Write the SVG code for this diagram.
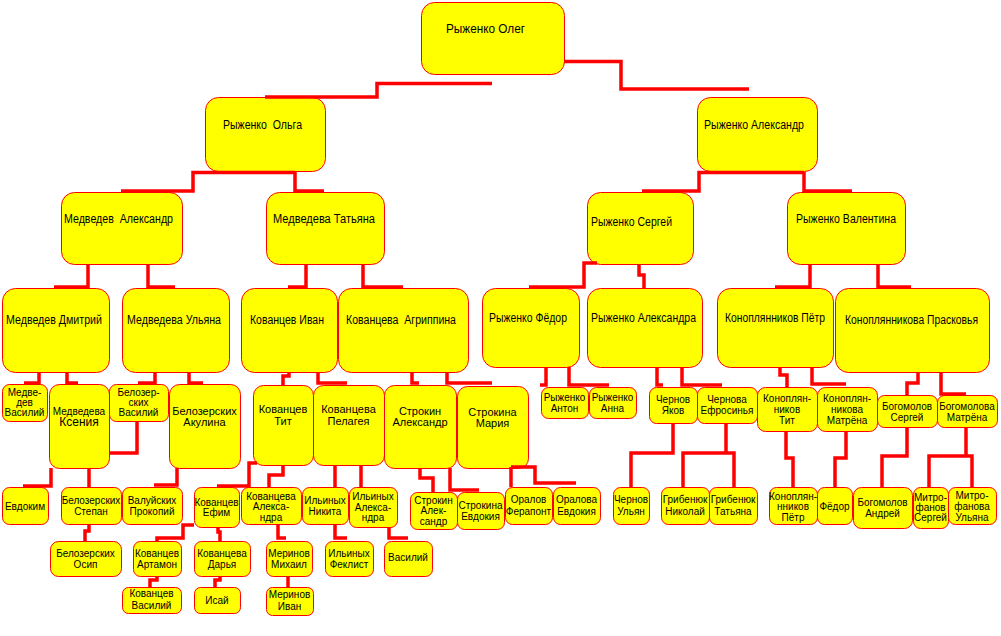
<svg xmlns="http://www.w3.org/2000/svg" width="1001" height="636" viewBox="0 0 1001 636">
<style>
.n rect{fill:#ffff00;stroke:#ff0000;stroke-width:1}
.n text{font-family:"Liberation Sans",Arial,sans-serif;fill:#000;text-anchor:middle}
.b text{font-size:12px}
.m text{font-size:11px}
.s text{font-size:10px}
#connectors path{fill:none;stroke:#ff0000;stroke-width:3.5}
</style>
<rect width="1001" height="636" fill="#ffffff"/>
<g id="nodes">
<g id="oleg" class="n b"><rect x="421.5" y="2.5" width="143" height="72" rx="13"/><text x="485.5" y="33" textLength="79" lengthAdjust="spacingAndGlyphs">Рыженко Олег</text></g>
<g id="olga" class="n b"><rect x="205.5" y="97.5" width="120" height="74" rx="13"/><text x="262.5" y="129" xml:space="preserve" textLength="79" lengthAdjust="spacingAndGlyphs">Рыженко  Ольга</text></g>
<g id="alexandr-r" class="n b"><rect x="697.5" y="97.5" width="120" height="74" rx="13"/><text x="754" y="129" textLength="100" lengthAdjust="spacingAndGlyphs">Рыженко Александр</text></g>
<g id="medvedev-a" class="n b"><rect x="61.5" y="192.5" width="121" height="72" rx="13"/><text x="118.5" y="223" xml:space="preserve" textLength="109" lengthAdjust="spacingAndGlyphs">Медведев  Александр</text></g>
<g id="medvedeva-t" class="n b"><rect x="266.5" y="192.5" width="118" height="72" rx="13"/><text x="324" y="223" textLength="102" lengthAdjust="spacingAndGlyphs">Медведева Татьяна</text></g>
<g id="sergey" class="n b"><rect x="587.5" y="192.5" width="106" height="72" rx="13"/><text x="631.5" y="226" textLength="81" lengthAdjust="spacingAndGlyphs">Рыженко Сергей</text></g>
<g id="valentina" class="n b"><rect x="787.5" y="192.5" width="118" height="72" rx="13"/><text x="846" y="223" textLength="100" lengthAdjust="spacingAndGlyphs">Рыженко Валентина</text></g>
<g id="dmitry" class="n b"><rect x="2.5" y="288.5" width="107" height="84" rx="13"/><text x="54" y="324" textLength="96" lengthAdjust="spacingAndGlyphs">Медведев Дмитрий</text></g>
<g id="ulyana" class="n b"><rect x="122.5" y="288.5" width="107" height="84" rx="13"/><text x="174" y="324" textLength="94" lengthAdjust="spacingAndGlyphs">Медведева Ульяна</text></g>
<g id="ivan" class="n b"><rect x="241.5" y="288.5" width="96" height="84" rx="13"/><text x="287" y="324" textLength="74" lengthAdjust="spacingAndGlyphs">Кованцев Иван</text></g>
<g id="agrippina" class="n b"><rect x="338.5" y="288.5" width="130" height="84" rx="13"/><text x="401" y="324" xml:space="preserve" textLength="110" lengthAdjust="spacingAndGlyphs">Кованцева  Агриппина</text></g>
<g id="fedor" class="n b"><rect x="482.5" y="288.5" width="97" height="79" rx="13"/><text x="528" y="322" textLength="78" lengthAdjust="spacingAndGlyphs">Рыженко Фёдор</text></g>
<g id="alexandra-r" class="n b"><rect x="587.5" y="288.5" width="115" height="79" rx="13"/><text x="643.5" y="322" textLength="105" lengthAdjust="spacingAndGlyphs">Рыженко Александра</text></g>
<g id="petr" class="n b"><rect x="717.5" y="288.5" width="116" height="79" rx="13"/><text x="775" y="322" textLength="100" lengthAdjust="spacingAndGlyphs">Коноплянников Пётр</text></g>
<g id="praskovya" class="n b"><rect x="835.5" y="288.5" width="154" height="84" rx="13"/><text x="911.5" y="324" textLength="133" lengthAdjust="spacingAndGlyphs">Коноплянникова Прасковья</text></g>

<g id="medvedev-v" class="n s"><rect x="2.5" y="384.5" width="45" height="37" rx="7"/><text x="24.5" y="395.5">Медве-</text><text x="24.5" y="405.5">дев</text><text x="24.5" y="415.5">Василий</text></g>
<g id="kseniya" class="n"><rect x="49.5" y="384.5" width="60" height="84" rx="10"/><text x="79" y="414.5" font-size="10">Медведева</text><text x="79" y="426" font-size="12">Ксения</text></g>
<g id="belozersky-v" class="n s"><rect x="109.5" y="384.5" width="59" height="37" rx="7"/><text x="138.5" y="395.5">Белозер-</text><text x="138.5" y="405.5">ских</text><text x="138.5" y="415.5">Василий</text></g>
<g id="akulina" class="n m"><rect x="169.5" y="384.5" width="71" height="84" rx="10"/><text x="204.5" y="415">Белозерских</text><text x="204.5" y="426">Акулина</text></g>
<g id="kovantsev-tit" class="n m"><rect x="253.5" y="385.5" width="60" height="80" rx="10"/><text x="283" y="413">Кованцев</text><text x="283" y="425">Тит</text></g>
<g id="pelageya" class="n m"><rect x="313.5" y="385.5" width="71" height="80" rx="10"/><text x="348.5" y="413">Кованцева</text><text x="348.5" y="425">Пелагея</text></g>
<g id="strokin-a" class="n m"><rect x="384.5" y="385.5" width="72" height="83" rx="10"/><text x="420" y="415">Строкин</text><text x="420" y="426">Александр</text></g>
<g id="strokina-m" class="n m"><rect x="457.5" y="386.5" width="71" height="82" rx="10"/><text x="492.5" y="416">Строкина</text><text x="492.5" y="427">Мария</text></g>
<g id="ryzhenko-anton" class="n s"><rect x="541.5" y="387.5" width="47" height="31" rx="7"/><text x="564.5" y="400.5">Рыженко</text><text x="564.5" y="411.5">Антон</text></g>
<g id="ryzhenko-anna" class="n s"><rect x="589.5" y="387.5" width="47" height="31" rx="7"/><text x="612.5" y="400.5">Рыженко</text><text x="612.5" y="411.5">Анна</text></g>
<g id="chernov-yakov" class="n s"><rect x="649.5" y="387.5" width="48" height="36" rx="7"/><text x="673" y="402.5">Чернов</text><text x="673" y="413.5">Яков</text></g>
<g id="chernova-efrosinya" class="n s"><rect x="697.5" y="387.5" width="60" height="36" rx="7"/><text x="727" y="402.5">Чернова</text><text x="727" y="413.5">Ефросинья</text></g>
<g id="konoplyannikov-tit" class="n s"><rect x="757.5" y="387.5" width="60" height="44" rx="8"/><text x="787" y="401.5">Коноплян-</text><text x="787" y="412.5">ников</text><text x="787" y="423.5">Тит</text></g>
<g id="konoplyannikova-matryona" class="n s"><rect x="817.5" y="387.5" width="60" height="44" rx="8"/><text x="847" y="401.5">Коноплян-</text><text x="847" y="412.5">никова</text><text x="847" y="423.5">Матрёна</text></g>
<g id="bogomolov-s" class="n s"><rect x="877.5" y="395.5" width="60" height="32" rx="7"/><text x="907" y="409.5">Богомолов</text><text x="907" y="420.5">Сергей</text></g>
<g id="bogomolova-m" class="n s"><rect x="937.5" y="395.5" width="60" height="32" rx="7"/><text x="967" y="409.5">Богомолова</text><text x="967" y="420.5">Матрёна</text></g>

<g id="evdokim" class="n s"><rect x="2.5" y="487.5" width="46" height="37" rx="7"/><text x="25" y="509.5">Евдоким</text></g>
<g id="belozersky-stepan" class="n s"><rect x="61.5" y="487.5" width="60" height="37" rx="7"/><text x="91" y="503.5">Белозерских</text><text x="91" y="514.5">Степан</text></g>
<g id="valuyskikh" class="n s"><rect x="122.5" y="487.5" width="60" height="37" rx="7"/><text x="152" y="503.5">Валуйских</text><text x="152" y="514.5">Прокопий</text></g>
<g id="kovantsev-efim" class="n s"><rect x="194.5" y="487.5" width="45" height="40" rx="7"/><text x="216.5" y="505.5">Кованцев</text><text x="216.5" y="515.5">Ефим</text></g>
<g id="kovantseva-alexandra" class="n s"><rect x="241.5" y="487.5" width="60" height="37" rx="7"/><text x="271" y="499.5">Кованцева</text><text x="271" y="509.5">Алекса-</text><text x="271" y="520.5">ндра</text></g>
<g id="ilyinykh-nikita" class="n s"><rect x="302.5" y="487.5" width="46" height="37" rx="7"/><text x="325" y="503.5">Ильиных</text><text x="325" y="514.5">Никита</text></g>
<g id="ilyinykh-alexandra" class="n s"><rect x="349.5" y="487.5" width="48" height="40" rx="7"/><text x="373" y="499.5">Ильиных</text><text x="373" y="510.5">Алекса-</text><text x="373" y="520.5">ндра</text></g>
<g id="strokin-alexandr2" class="n s"><rect x="410.5" y="492.5" width="47" height="37" rx="7"/><text x="433.5" y="503.5">Строкин</text><text x="433.5" y="513.5">Алек-</text><text x="433.5" y="524.5">сандр</text></g>
<g id="strokina-evdokiya" class="n s"><rect x="457.5" y="492.5" width="47" height="37" rx="7"/><text x="480.5" y="508.5">Строкина</text><text x="480.5" y="519.5">Евдокия</text></g>
<g id="oralov-ferapont" class="n s"><rect x="505.5" y="487.5" width="47" height="37" rx="7"/><text x="528.5" y="502.5">Оралов</text><text x="528.5" y="514.5">Ферапонт</text></g>
<g id="oralova-evdokiya" class="n s"><rect x="553.5" y="487.5" width="47" height="37" rx="7"/><text x="576.5" y="502.5">Оралова</text><text x="576.5" y="514.5">Евдокия</text></g>
<g id="chernov-ulyan" class="n s"><rect x="613.5" y="487.5" width="36" height="37" rx="7"/><text x="631" y="502.5">Чернов</text><text x="631" y="514.5">Ульян</text></g>
<g id="gribenyuk-nikolay" class="n s"><rect x="661.5" y="487.5" width="48" height="37" rx="7"/><text x="685" y="502.5">Грибенюк</text><text x="685" y="514.5">Николай</text></g>
<g id="gribenyuk-tatyana" class="n s"><rect x="709.5" y="487.5" width="48" height="37" rx="7"/><text x="733" y="502.5">Грибенюк</text><text x="733" y="514.5">Татьяна</text></g>
<g id="konoplyannikov-petr2" class="n s"><rect x="769.5" y="487.5" width="48" height="37" rx="7"/><text x="793" y="499.5">Коноплян-</text><text x="793" y="509.5">нников</text><text x="793" y="520.5">Пётр</text></g>
<g id="fedor2" class="n s"><rect x="817.5" y="487.5" width="35" height="37" rx="7"/><text x="834.5" y="509.5">Фёдор</text></g>
<g id="bogomolov-andrey" class="n s"><rect x="853.5" y="487.5" width="59" height="41" rx="8"/><text x="882.5" y="505.5">Богомолов</text><text x="882.5" y="516.5">Андрей</text></g>
<g id="mitrofanov-sergey" class="n s"><rect x="913.5" y="487.5" width="35" height="41" rx="7"/><text x="930.5" y="500.5">Митро-</text><text x="930.5" y="510.5">фанов</text><text x="930.5" y="520.5">Сергей</text></g>
<g id="mitrofanova-ulyana" class="n s"><rect x="948.5" y="487.5" width="48" height="37" rx="7"/><text x="972" y="498.5">Митро-</text><text x="972" y="509.5">фанова</text><text x="972" y="520.5">Ульяна</text></g>

<g id="belozersky-osip" class="n s"><rect x="50.5" y="541.5" width="71" height="35" rx="8"/><text x="85.5" y="556.5">Белозерских</text><text x="85.5" y="567.5">Осип</text></g>
<g id="kovantsev-artamon" class="n s"><rect x="133.5" y="541.5" width="48" height="35" rx="7"/><text x="157" y="556.5">Кованцев</text><text x="157" y="567.5">Артамон</text></g>
<g id="kovantseva-darya" class="n s"><rect x="194.5" y="541.5" width="56" height="35" rx="7"/><text x="222" y="556.5">Кованцева</text><text x="222" y="567.5">Дарья</text></g>
<g id="merinov-mikhail" class="n s"><rect x="266.5" y="541.5" width="46" height="35" rx="7"/><text x="289" y="556.5">Меринов</text><text x="289" y="567.5">Михаил</text></g>
<g id="ilyinykh-feklist" class="n s"><rect x="325.5" y="541.5" width="48" height="35" rx="7"/><text x="349" y="556.5">Ильиных</text><text x="349" y="567.5">Феклист</text></g>
<g id="vasiliy" class="n s"><rect x="384.5" y="541.5" width="48" height="35" rx="7"/><text x="408" y="560.5">Василий</text></g>

<g id="kovantsev-vasiliy" class="n s"><rect x="122.5" y="587.5" width="59" height="26" rx="6"/><text x="151.5" y="596.5">Кованцев</text><text x="151.5" y="608.5">Василий</text></g>
<g id="isay" class="n s"><rect x="194.5" y="587.5" width="46" height="26" rx="6"/><text x="217" y="603.5">Исай</text></g>
<g id="merinov-ivan" class="n s"><rect x="266.5" y="587.5" width="47" height="28" rx="6"/><text x="289.5" y="597.5">Меринов</text><text x="289.5" y="609.5">Иван</text></g>
</g>

<g id="connectors">
<path d="M492,83.5 H377 V97 H265"/>
<path d="M564,61.5 H621 V89 H749"/>
<path d="M295,172.5 H193 V191 H121"/>
<path d="M295,172 V191 H324"/>
<path d="M804,172.5 H699 V191 H642"/>
<path d="M804,172 V191 H852"/>
<path d="M88,264 V287 H54"/>
<path d="M148,264 V287 H175"/>
<path d="M306,264 V287 H288"/>
<path d="M363,264 V287 H403"/>
<path d="M597,263 H584 V287 H529"/>
<path d="M639,264 V275 H644 V288"/>
<path d="M810,264 V287 H775"/>
<path d="M878,264 V287 H911"/>
<path d="M39,372 V383 H24"/>
<path d="M67,372 V383 H78"/>
<path d="M155,372 V383 H138"/>
<path d="M189,372 V383 H203"/>
<path d="M289,372 V376 H283 V385"/>
<path d="M318,372 V383 H347"/>
<path d="M412,372 V383 H419"/>
<path d="M447,372 V383 H492"/>
<path d="M546,367 V385 H540"/>
<path d="M569,367 V385 H609"/>
<path d="M657,367 V385 H663"/>
<path d="M682,367 V385 H722"/>
<path d="M780,367 V375 H787 V387"/>
<path d="M812,367 V384 H846"/>
<path d="M918,372 V383 H907 V395"/>
<path d="M941,372 V394 H966"/>
<path d="M137,421 V453 H109"/>
<path d="M51,468 V486 H23"/>
<path d="M89,468 V487"/>
<path d="M89,524 V531 H85 V541"/>
<path d="M177,468 V485 H154"/>
<path d="M257,463 H249 V486 H217"/>
<path d="M283,465 V475 H269 V487"/>
<path d="M194,525 H183 V538 H157 V541"/>
<path d="M218,527 V532 H220 V541"/>
<path d="M157,576 V580 H150 V587"/>
<path d="M220,576 V580 H215 V587"/>
<path d="M335,465 V487"/>
<path d="M361,465 V487"/>
<path d="M278,524 V538 H286"/>
<path d="M288,576 V587"/>
<path d="M335,524 V538 H347"/>
<path d="M389,527 V538 H408"/>
<path d="M420,468 V478 H433 V492"/>
<path d="M450,468 V490 H479"/>
<path d="M511,467 V487"/>
<path d="M511,467 H535 V483 H576"/>
<path d="M673,423 V453 H631 V487"/>
<path d="M726,423 V453"/>
<path d="M683,487 V453 H734 V487"/>
<path d="M786,431 V458 H793 V487"/>
<path d="M846,431 V458 H835 V487"/>
<path d="M907,427 V456 H882 V487"/>
<path d="M966,427 V456"/>
<path d="M929,487 V456 H972 V487"/>
</g>
</svg>
